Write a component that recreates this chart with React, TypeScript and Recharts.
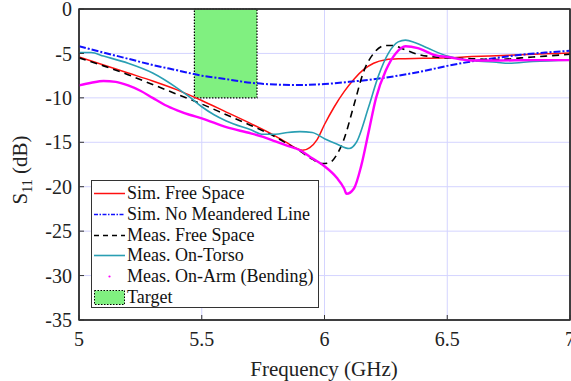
import React from 'react';
import { LineChart, Line, XAxis, YAxis, CartesianGrid, ReferenceArea } from 'recharts';

const simFree = [
  [5.0, -5.4], [5.1, -6.3], [5.2, -7.2], [5.3, -8.1], [5.4, -9.1], [5.5, -10.3], [5.6, -11.6],
  [5.7, -12.9], [5.8, -14.3], [5.85, -15.1], [5.88, -15.6], [5.91, -15.9], [5.94, -15.6],
  [5.97, -14.7], [6.0, -13.0], [6.04, -11.0], [6.08, -9.3], [6.12, -7.9], [6.16, -6.8],
  [6.2, -6.1], [6.25, -5.7], [6.3, -5.6], [6.4, -5.55], [6.5, -5.5], [6.6, -5.35],
  [6.7, -5.25], [6.8, -5.15], [6.9, -5.05], [7.0, -4.95],
];
const simNoMeander = [
  [5.0, -4.2], [5.1, -4.9], [5.2, -5.6], [5.3, -6.3], [5.4, -6.9], [5.5, -7.5], [5.6, -7.9],
  [5.7, -8.3], [5.8, -8.5], [5.9, -8.55], [6.0, -8.45], [6.1, -8.2], [6.2, -7.9], [6.3, -7.5],
  [6.4, -7.0], [6.5, -6.4], [6.6, -5.9], [6.7, -5.5], [6.8, -5.15], [6.9, -4.9], [7.0, -4.7],
];
const measFree = [
  [5.0, -5.5], [5.1, -6.4], [5.2, -7.4], [5.3, -8.5], [5.4, -9.6], [5.5, -10.7], [5.6, -11.9],
  [5.7, -13.1], [5.8, -14.4], [5.85, -15.2], [5.9, -16.0], [5.95, -16.9], [5.99, -17.4],
  [6.02, -17.3], [6.05, -16.4], [6.08, -14.6], [6.12, -10.8], [6.16, -7.0], [6.2, -5.0],
  [6.25, -4.1], [6.28, -4.1], [6.32, -4.5], [6.38, -5.1], [6.45, -5.4], [6.6, -5.6],
  [6.7, -5.7], [6.8, -5.5], [6.9, -5.3], [7.0, -5.1],
];
const measTorso = [
  [5.0, -4.9], [5.05, -4.9], [5.1, -5.3], [5.2, -6.1], [5.3, -7.2], [5.4, -8.9], [5.45, -9.9],
  [5.5, -11.0], [5.55, -11.9], [5.6, -12.6], [5.7, -13.6], [5.75, -14.1], [5.8, -14.1],
  [5.85, -13.9], [5.9, -13.8], [5.95, -13.9], [6.0, -14.6], [6.05, -15.2], [6.1, -15.7],
  [6.13, -15.0], [6.18, -11.0], [6.22, -7.5], [6.26, -5.0], [6.3, -3.7], [6.33, -3.5],
  [6.37, -3.8], [6.42, -4.4], [6.5, -5.3], [6.6, -5.8], [6.7, -6.0], [6.75, -6.1],
  [6.85, -5.9], [7.0, -5.75],
];
const measArm = [
  [5.0, -8.6], [5.05, -8.3], [5.1, -8.1], [5.15, -8.2], [5.2, -8.6], [5.25, -9.2], [5.3, -10.0],
  [5.35, -10.8], [5.4, -11.4], [5.45, -11.9], [5.5, -12.3], [5.6, -13.3], [5.7, -14.0],
  [5.75, -14.4], [5.8, -14.9], [5.85, -15.4], [5.9, -15.9], [5.95, -16.8], [6.0, -17.7],
  [6.05, -19.0], [6.08, -20.2], [6.09, -20.8], [6.12, -20.2], [6.15, -17.6], [6.18, -13.8],
  [6.21, -10.0], [6.25, -6.9], [6.29, -5.0], [6.33, -4.2], [6.38, -4.4], [6.45, -5.2],
  [6.5, -5.4], [6.6, -5.8], [6.7, -5.8], [6.85, -5.75], [7.0, -5.75],
];
const targetBand = { f1: 5.47, f2: 5.725, top: 0, bottom: -10 };
const xTicks = [5, 5.5, 6, 6.5, 7];
const yTicks = [0, -5, -10, -15, -20, -25, -30, -35];

const toRows = (arr: number[][]) => arr.map(([f, s]) => ({ f, s }));

const series = [
  { name: 'Sim. Free Space', data: toRows(simFree), color: '#ff1010', width: 1.5, dash: undefined },
  { name: 'Sim. No Meandered Line', data: toRows(simNoMeander), color: '#1010ff', width: 2, dash: '7 2 2 2' },
  { name: 'Meas. Free Space', data: toRows(measFree), color: '#000000', width: 1.6, dash: '7 5' },
  { name: 'Meas. On-Torso', data: toRows(measTorso), color: '#2a9fb3', width: 1.6, dash: undefined },
  { name: 'Meas. On-Arm (Bending)', data: toRows(measArm), color: '#ff00ff', width: 2.4, dash: undefined },
];

const FONT = 'Liberation Serif';

const YLabel = () => (
  <text x={27} y={170} transform="rotate(-90 27 170)" textAnchor="middle" fontFamily={FONT} fontSize={21} fill="#222">
    S<tspan fontSize={14} dy={5}>11</tspan><tspan dy={-5}> (dB)</tspan>
  </text>
);
const XLabel = () => (
  <text x={324} y={376} textAnchor="middle" fontFamily={FONT} fontSize={21} fill="#222">Frequency (GHz)</text>
);

const legendRows = [
  { name: 'Sim. Free Space', kind: 'line', color: '#ff1010', dash: undefined, w: 1.5 },
  { name: 'Sim. No Meandered Line', kind: 'line', color: '#1010ff', dash: '4 1.5 1.5 1.5', w: 1.6 },
  { name: 'Meas. Free Space', kind: 'line', color: '#000', dash: '5 4', w: 1.5 },
  { name: 'Meas. On-Torso', kind: 'line', color: '#2a9fb3', dash: undefined, w: 1.6 },
  { name: 'Meas. On-Arm (Bending)', kind: 'dot', color: '#ff00ff', dash: undefined, w: 1 },
  { name: 'Target', kind: 'rect', color: '#80f080', dash: undefined, w: 1 },
];

export default function App() {
  return (
    <div style={{ position: 'absolute', left: 0, top: 0, width: 571, height: 381, background: '#fff' }}>
      <LineChart width={571} height={381} margin={{ top: 8, right: 0, left: 0, bottom: 0 }}>
        <CartesianGrid stroke="#d4d4ff" strokeWidth={1} vertical horizontal />
        <ReferenceArea
          x1={targetBand.f1}
          x2={targetBand.f2}
          y1={targetBand.bottom}
          y2={targetBand.top}
          fill="#80f080"
          fillOpacity={1}
          stroke="#000"
          strokeDasharray="1.5 1.5"
          strokeWidth={1.2}
          ifOverflow="visible"
        />
        <XAxis
          dataKey="f"
          type="number"
          domain={[5, 7]}
          ticks={xTicks}
          interval={0}
          allowDataOverflow
          height={61}
          tickSize={-5}
          tickMargin={17}
          tick={{ fontFamily: FONT, fontSize: 20, fill: '#222' }}
          axisLine={{ stroke: '#333', strokeWidth: 1.5 }}
          tickLine={{ stroke: '#333' }}
          label={<XLabel />}
        />
        <XAxis
          xAxisId="top"
          orientation="top"
          dataKey="f"
          type="number"
          domain={[5, 7]}
          ticks={xTicks}
          interval={0}
          height={1}
          tickSize={-5}
          tick={false}
          axisLine={{ stroke: '#333', strokeWidth: 1.5 }}
          tickLine={{ stroke: '#333' }}
        />
        <YAxis
          dataKey="s"
          type="number"
          domain={[-35, 0]}
          ticks={yTicks}
          interval={0}
          allowDataOverflow
          width={79}
          tickSize={-5}
          tickMargin={12}
          tick={{ fontFamily: FONT, fontSize: 20, fill: '#222' }}
          axisLine={{ stroke: '#333', strokeWidth: 1.5 }}
          tickLine={{ stroke: '#333' }}
          label={<YLabel />}
        />
        <YAxis
          yAxisId="right"
          orientation="right"
          type="number"
          domain={[-35, 0]}
          ticks={yTicks}
          interval={0}
          width={1}
          tickSize={-5}
          tick={false}
          axisLine={{ stroke: '#333', strokeWidth: 1.5 }}
          tickLine={{ stroke: '#333' }}
        />
        <ReferenceArea
          x1={5}
          x2={7}
          y1={-35}
          y2={0}
          fill="none"
          stroke="#333"
          strokeWidth={1.5}
          ifOverflow="visible"
        />
        {series.map((s) => (
          <Line
            key={s.name}
            data={s.data}
            dataKey="s"
            name={s.name}
            type="monotone"
            stroke={s.color}
            strokeWidth={s.width}
            strokeDasharray={s.dash}
            dot={false}
            isAnimationActive={false}
          />
        ))}
      </LineChart>
      <div
        style={{
          position: 'absolute',
          left: 91,
          top: 180,
          width: 226,
          height: 126,
          border: '1.5px solid #333',
          background: '#fff',
          fontFamily: FONT,
          fontSize: 18,
          color: '#111',
          boxSizing: 'content-box',
        }}
      >
        {legendRows.map((r, i) => (
          <div key={r.name} style={{ position: 'absolute', left: 0, top: 2 + i * 20.8, height: 21, display: 'flex', alignItems: 'center', whiteSpace: 'nowrap' }}>
            <svg width={34} height={21} style={{ display: 'block' }}>
              {r.kind === 'line' && (
                <line x1={2} x2={33} y1={10.5} y2={10.5} stroke={r.color} strokeWidth={r.w} strokeDasharray={r.dash} />
              )}
              {r.kind === 'dot' && <circle cx={17.5} cy={10.5} r={1.1} fill={r.color} />}
              {r.kind === 'rect' && (
                <rect x={2.5} y={3.5} width={30} height={14} fill={r.color} stroke="#000" strokeDasharray="1.5 1.5" strokeWidth={1} />
              )}
            </svg>
            <span style={{ marginLeft: 1, lineHeight: '21px' }}>{r.name}</span>
          </div>
        ))}
      </div>
    </div>
  );
}
